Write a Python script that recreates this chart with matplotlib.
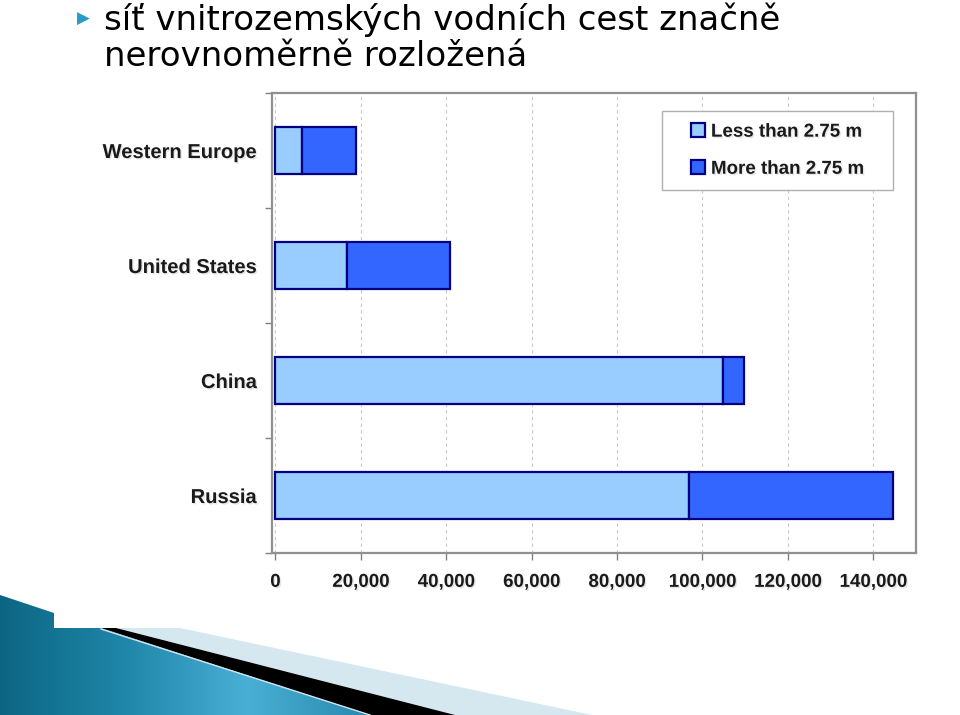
import numpy as np
import matplotlib
matplotlib.use("Agg")
import matplotlib.pyplot as plt
from matplotlib.patches import Polygon, Rectangle
import matplotlib.patheffects as pe

regions = ["Western Europe", "United States", "China", "Russia"]
less_275 = [6300, 16800, 104800, 96800]
more_275 = [12600, 24100, 5000, 47900]
x_ticks = [0, 20000, 40000, 60000, 80000, 100000, 120000, 140000]

W, H = 960, 715
fig = plt.figure(figsize=(W / 100, H / 100), dpi=100)
fig.patch.set_facecolor("white")

def px(x, y):
    return (x / W, 1 - y / H)

# slide decoration, bottom left
deco = fig.add_axes([0, 0, 1, 1], zorder=0)
deco.set_xlim(0, W)
deco.set_ylim(H, 0)
deco.axis("off")
teal_pts = [(0, 595), (54, 613), (54, 628), (101, 628), (370, 715), (0, 715)]
teal = Polygon(teal_pts, closed=True, facecolor="none", edgecolor="none")
deco.add_patch(teal)
grad = np.linspace(0, 1, 256).reshape(1, -1)
cmap = matplotlib.colors.LinearSegmentedColormap.from_list(
    "teal", ["#0c6682", "#1f86aa", "#49afd4", "#2889ad"])
img = deco.imshow(grad, extent=(0, 372, 715, 590), cmap=cmap, aspect="auto")
img.set_clip_path(teal)
deco.add_patch(Polygon([(116, 628), (180, 628), (592, 715), (455, 715)],
                       closed=True, facecolor="#d5e8f0", edgecolor="none"))
deco.add_patch(Polygon([(101, 628), (116, 628), (455, 715), (370, 715)],
                       closed=True, facecolor="black", edgecolor="none"))
deco.plot([101, 370], [629, 715], color="#cfe6ef", lw=1)

# title with bullet
fig.text(*px(77, 19), "\u25b6", color="#2a9cc4", fontsize=12, va="center",
         family="DejaVu Sans")
title_kw = dict(fontsize=24.5, family="DejaVu Sans", color="black", va="baseline")
fig.text(*px(104, 30), "síť vnitrozemských vodních cest značně", **title_kw)
fig.text(*px(104, 66), "nerovnoměrně rozložená", **title_kw)

# chart
ax = fig.add_axes([272 / W, 1 - 553 / H, (916 - 272) / W, (553 - 93) / H], zorder=2)
y = np.arange(len(regions))
light = "#99ccff"
dark = "#3366ff"
edge = "#000080"
ax.barh(y, less_275, height=0.41, color=light, edgecolor=edge, lw=1.6,
        label="Less than 2.75 m", zorder=3)
ax.barh(y, more_275, left=less_275, height=0.41, color=dark, edgecolor=edge,
        lw=1.6, label="More than 2.75 m", zorder=3)
ax.set_ylim(3.5, -0.5)
ax.set_xlim(-800, 150000)

ax.set_yticks(y)
ax.set_yticklabels(regions)
ax.set_yticks(np.arange(-0.5, 4, 1), minor=True)
ax.tick_params(axis="y", which="major", length=0, pad=11)
ax.tick_params(axis="y", which="minor", length=5, color="#808080", width=1)
ax.set_xticks(x_ticks)
ax.set_xticklabels([f"{v:,}" for v in x_ticks])
ax.tick_params(axis="x", length=5, color="#808080", width=1, pad=10)
shadow = [pe.withSimplePatchShadow(offset=(1, -1), shadow_rgbFace="#aaaaaa", alpha=0.3)]
for lab in ax.get_yticklabels() + ax.get_xticklabels():
    lab.set_family("Liberation Sans")
    lab.set_fontweight("bold")
    lab.set_fontsize(13.5)
    lab.set_color("#1a1a1a")
    lab.set_path_effects(shadow)
for lab in ax.get_yticklabels():
    lab.set_fontsize(14.5)
ax.grid(axis="x", color="#c8c8c8", ls=(0, (3, 3)), lw=0.8, zorder=0)
for s in ax.spines.values():
    s.set_color("#909090")
    s.set_linewidth(1.6)

# legend box drawn separately so the padding matches the original
ax.add_patch(Rectangle((0.6056, 0.789), 0.3587, 0.172, transform=ax.transAxes,
                       facecolor="white", edgecolor="#b0b0b0", lw=1, zorder=4))
leg = ax.legend(loc="center", bbox_to_anchor=(0.785, 0.875), frameon=False,
                prop={"family": "Liberation Sans", "weight": "bold", "size": 13.5},
                handlelength=0.75, handleheight=0.75, handletextpad=0.3,
                labelspacing=1.05, borderpad=0, borderaxespad=0)
leg.set_zorder(5)
for t in leg.get_texts():
    t.set_color("#1a1a1a")
    t.set_path_effects(shadow)

fig.savefig("out.png", dpi=100)
